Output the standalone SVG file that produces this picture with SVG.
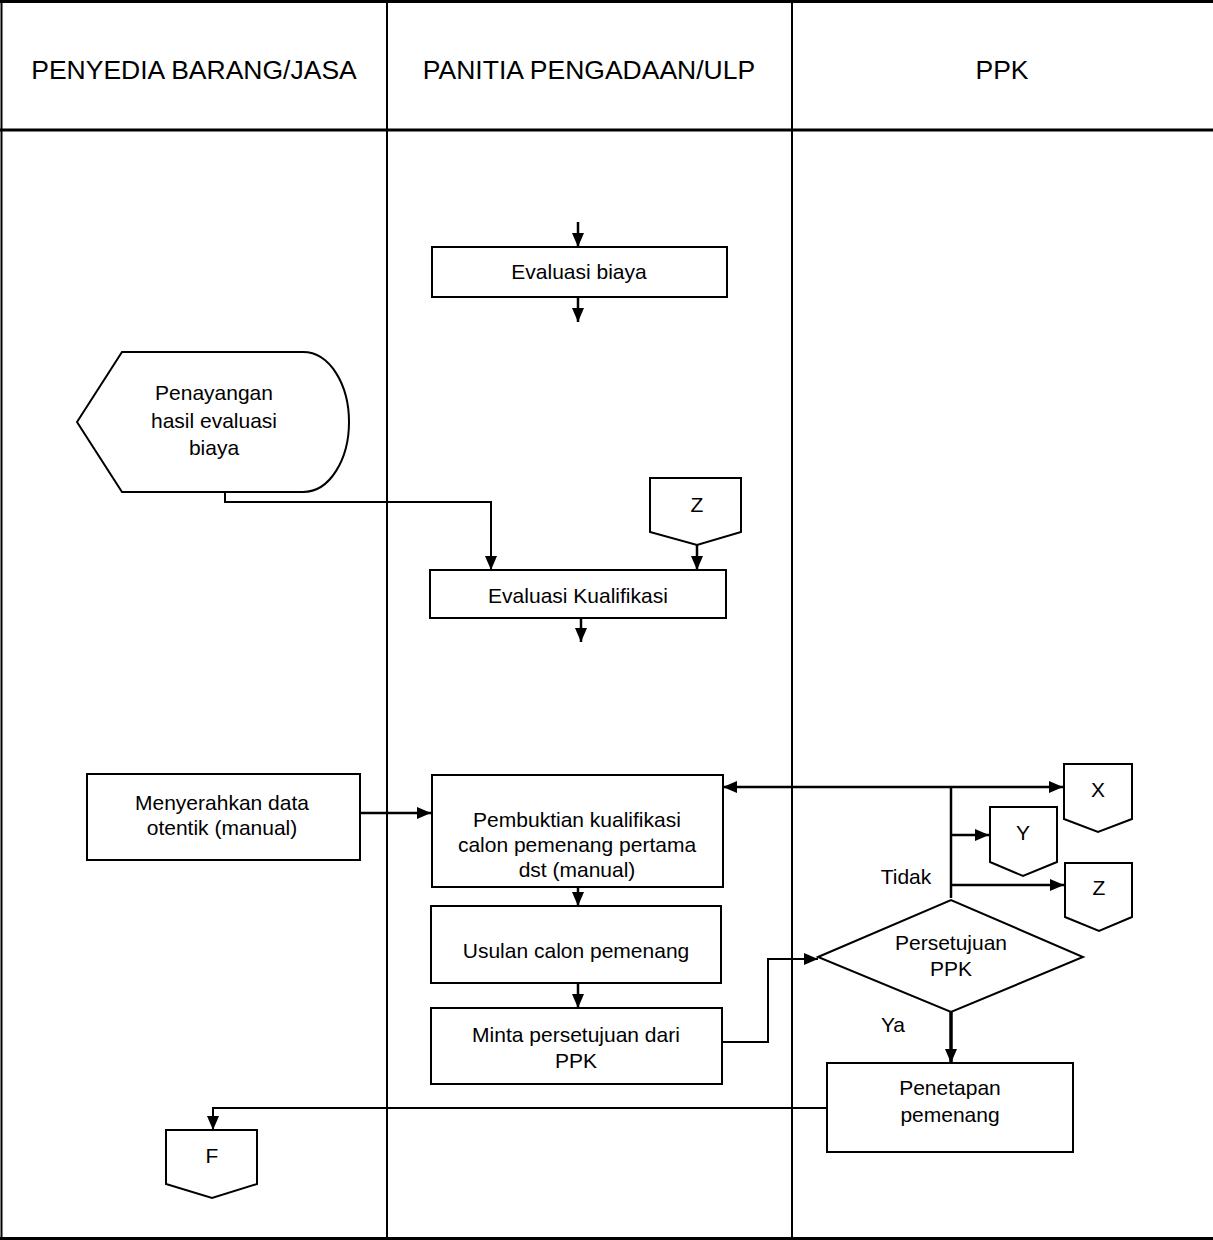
<svg xmlns="http://www.w3.org/2000/svg" width="1213" height="1240" viewBox="0 0 1213 1240">
<style>
text{font-family:"Liberation Sans",Arial,sans-serif;fill:#000;text-anchor:middle}
.h{font-size:26.5px}
.t{font-size:21px}
.box{fill:#fff;stroke:#000;stroke-width:2}
.lane{stroke:#000;stroke-width:2;fill:none}
.frame{stroke:#000;stroke-width:3;fill:none}
.c{stroke:#000;stroke-width:2.5;fill:none}
.c2{stroke:#000;stroke-width:2;fill:none}
.a{marker-end:url(#ah)}
</style>
<defs>
<marker id="ah" markerWidth="14" markerHeight="12" refX="14" refY="6" orient="auto-start-reverse" markerUnits="userSpaceOnUse"><path d="M0,0 L14,6 L0,12 Z" fill="#000"/></marker>
</defs>
<rect width="1213" height="1240" fill="#fff"/>
<g id="lanes">
<line class="frame" x1="0" y1="1.5" x2="1213" y2="1.5"/>
<line class="frame" x1="0" y1="130" x2="1213" y2="130"/>
<line class="frame" x1="0" y1="1238.5" x2="1213" y2="1238.5"/>
<line class="lane" x1="1.5" y1="0" x2="1.5" y2="1240"/>
<line class="lane" x1="387" y1="0" x2="387" y2="1240"/>
<line class="lane" x1="792" y1="0" x2="792" y2="1240"/>
<text class="h" x="194" y="79">PENYEDIA BARANG/JASA</text>
<text class="h" x="589" y="79">PANITIA PENGADAAN/ULP</text>
<text class="h" x="1002" y="79">PPK</text>
</g>
<g id="connectors">
<line class="c a" x1="578" y1="222" x2="578" y2="247"/>
<line class="c a" x1="578" y1="297" x2="578" y2="322"/>
<polyline class="c2 a" points="225,492 225,502 491,502 491,570"/>
<line class="c a" x1="697" y1="545" x2="697" y2="570"/>
<line class="c a" x1="581" y1="618" x2="581" y2="642"/>
<line class="c a" x1="360" y1="813" x2="431" y2="813"/>
<line class="c" x1="723" y1="787" x2="1063" y2="787" marker-start="url(#ah)" marker-end="url(#ah)"/>
<line class="c" x1="951" y1="787" x2="951" y2="898"/>
<line class="c a" x1="951" y1="835" x2="989" y2="835"/>
<line class="c a" x1="951" y1="885" x2="1064" y2="885"/>
<line class="c a" x1="578" y1="887" x2="578" y2="906"/>
<line class="c a" x1="578" y1="983" x2="578" y2="1008"/>
<polyline class="c2 a" points="722,1042 768,1042 768,959 818,959"/>
<line class="a" stroke="#000" stroke-width="3.5" x1="951" y1="1012" x2="951" y2="1063"/>
<polyline class="c2 a" points="827,1108 213,1108 213,1130"/>
<text class="t" x="906" y="884">Tidak</text>
<text class="t" x="893" y="1032">Ya</text>
</g>
<g id="evaluasi-biaya">
<rect class="box" x="432" y="247" width="295" height="50"/>
<text class="t" x="579" y="279">Evaluasi biaya</text>
</g>
<g id="penayangan">
<path class="box" d="M77,422 L122,352 L303,352 C330,352 349,385 349,422 C349,459 330,492 303,492 L122,492 Z"/>
<text class="t" x="214" y="400">Penayangan</text>
<text class="t" x="214" y="428">hasil evaluasi</text>
<text class="t" x="214" y="455">biaya</text>
</g>
<g id="z-top">
<polygon class="box" points="650,478 741,478 741,532 697,545 650,532"/>
<text class="t" x="697" y="512">Z</text>
</g>
<g id="evaluasi-kualifikasi">
<rect class="box" x="430" y="570" width="296" height="48"/>
<text class="t" x="578" y="603">Evaluasi Kualifikasi</text>
</g>
<g id="menyerahkan">
<rect class="box" x="87" y="774" width="273" height="86"/>
<text class="t" x="222" y="810">Menyerahkan data</text>
<text class="t" x="222" y="835">otentik (manual)</text>
</g>
<g id="pembuktian">
<rect class="box" x="432" y="775" width="291" height="112"/>
<text class="t" x="577" y="827">Pembuktian kualifikasi</text>
<text class="t" x="577" y="852">calon pemenang pertama</text>
<text class="t" x="577" y="877">dst (manual)</text>
</g>
<g id="usulan">
<rect class="box" x="431" y="906" width="290" height="77"/>
<text class="t" x="576" y="958">Usulan calon pemenang</text>
</g>
<g id="minta">
<rect class="box" x="431" y="1008" width="291" height="76"/>
<text class="t" x="576" y="1042">Minta persetujuan dari</text>
<text class="t" x="576" y="1068">PPK</text>
</g>
<g id="persetujuan">
<polygon class="box" points="818,957 951,900 1083,957 951,1012"/>
<text class="t" x="951" y="950">Persetujuan</text>
<text class="t" x="951" y="976">PPK</text>
</g>
<g id="penetapan">
<rect class="box" x="827" y="1063" width="246" height="89"/>
<text class="t" x="950" y="1095">Penetapan</text>
<text class="t" x="950" y="1122">pemenang</text>
</g>
<g id="x-conn">
<polygon class="box" points="1064,764 1132,764 1132,819 1098,832 1064,819"/>
<text class="t" x="1098" y="797">X</text>
</g>
<g id="y-conn">
<polygon class="box" points="990,807 1057,807 1057,862 1023,876 990,862"/>
<text class="t" x="1023" y="840">Y</text>
</g>
<g id="z-conn">
<polygon class="box" points="1065,863 1132,863 1132,917 1099,931 1065,917"/>
<text class="t" x="1099" y="895">Z</text>
</g>
<g id="f-conn">
<polygon class="box" points="166,1130 257,1130 257,1184 212,1198 166,1184"/>
<text class="t" x="212" y="1163">F</text>
</g>
</svg>
